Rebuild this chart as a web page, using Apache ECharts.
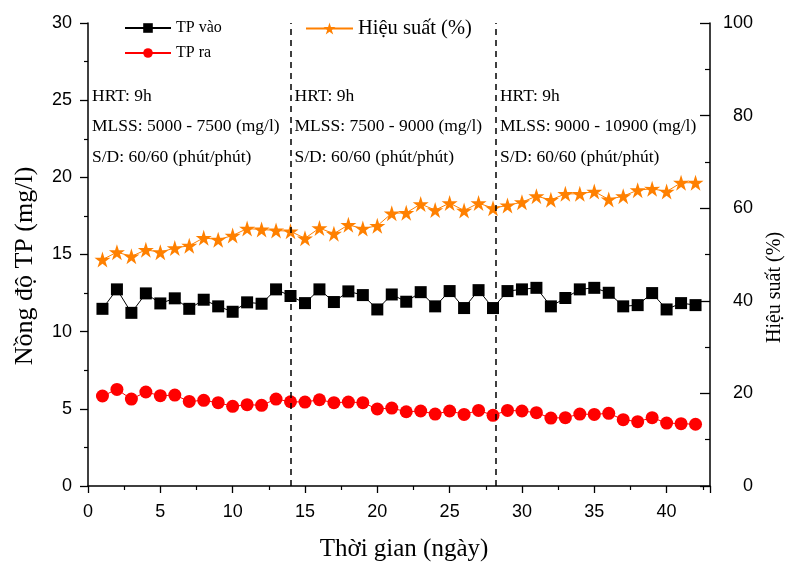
<!DOCTYPE html>
<html><head><meta charset="utf-8">
<script src="https://cdn.jsdelivr.net/npm/echarts@6/dist/echarts.min.js"></script>
<style>html,body{margin:0;padding:0;background:#fff}#c{width:789px;height:562px}</style>
</head><body><div id="c"></div>
<script>
const days = [1,2,3,4,5,6,7,8,9,10,11,12,13,14,15,16,17,18,19,20,21,22,23,24,25,26,27,28,29,30,31,32,33,34,35,36,37,38,39,40,41,42];
const tpVao = [11.48,12.74,11.22,12.48,11.83,12.16,11.48,12.07,11.64,11.29,11.90,11.81,12.74,12.31,11.85,12.74,11.92,12.61,12.37,11.44,12.41,11.94,12.56,11.64,12.63,11.53,12.69,11.53,12.63,12.74,12.84,11.64,12.18,12.74,12.84,12.52,11.64,11.72,12.50,11.44,11.85,11.72];
const tpRa = [5.83,6.26,5.63,6.09,5.85,5.89,5.48,5.55,5.40,5.16,5.27,5.23,5.63,5.46,5.44,5.59,5.40,5.44,5.40,4.99,5.05,4.81,4.86,4.66,4.86,4.64,4.90,4.58,4.90,4.86,4.75,4.40,4.43,4.66,4.64,4.71,4.30,4.17,4.43,4.08,4.04,4.00];
const hieuSuat = [48.9,50.5,49.6,51.0,50.5,51.4,51.9,53.6,53.2,54.1,55.6,55.4,55.2,55.0,53.5,55.7,54.5,56.4,55.6,56.2,58.9,59.0,60.9,59.6,61.1,59.5,61.1,60.0,60.6,61.3,62.6,61.8,63.1,63.1,63.6,61.9,62.6,63.9,64.2,63.6,65.5,65.5];
const phaseBounds = [14, 28.2];
const phaseX = [0, 14, 28.2];
const hrtText = 'HRT: 9h';
const mlssText = ['MLSS: 5000 - 7500 (mg/l)', 'MLSS: 7500 - 9000 (mg/l)', 'MLSS: 9000 - 10900 (mg/l)'];
const sdText = 'S/D: 60/60 (phút/phút)';

const star = 'path://M50,0 L61.17,34.63 L97.55,34.55 L68.07,55.87 L79.39,90.45 L50,69 L20.61,90.45 L31.93,55.87 L2.45,34.55 L38.83,34.63 Z';
const serif = 'Liberation Serif';
const sans = 'Liberation Sans';

const chart = echarts.init(document.getElementById('c'));
const G = {left:88, right:79, top:23, bottom:76, containLabel:false, outerBoundsMode:'none'};
const x0 = G.left, xw = 789 - G.left - G.right, xmax = 43;
const graphics = [];
phaseX.forEach((d, i) => {
  const px = x0 + d / xmax * xw + 4;
  [hrtText, mlssText[i], sdText].forEach((t, j) => {
    graphics.push({type:'text', left: px, top: 87 + j*30.5, style:{text:t, font:'17.5px "Liberation Serif"', fill:'#000'}});
  });
});

chart.setOption({
  animation:false,
  backgroundColor:'#fff',
  grid: G,
  legend:[
    {data:['TP vào','TP ra'], orient:'vertical', left:124, top:20, padding:0, itemWidth:46, itemHeight:12, itemGap:9,
     textStyle:{fontFamily:serif, fontSize:16, color:'#000'}},
    {data:['Hiệu suất (%)'], left:305, top:18, padding:0, itemWidth:47, itemHeight:15,
     textStyle:{fontFamily:serif, fontSize:20.5, color:'#000'}}
  ],
  xAxis:{type:'value', min:0, max:xmax, interval:5,
    name:'Thời gian (ngày)', nameLocation:'middle', nameGap:51,
    nameTextStyle:{fontFamily:serif, fontSize:25, color:'#000', padding:[0,0,0,10]},
    axisLine:{lineStyle:{color:'#000', width:1.5}},
    axisTick:{length:7, lineStyle:{color:'#000', width:1.3}},
    minorTick:{show:true, splitNumber:2, length:4, lineStyle:{color:'#000', width:1.2}},
    splitLine:{show:false},
    axisLabel:{showMaxLabel:false, fontFamily:sans, fontSize:18, color:'#000', margin:17}
  },
  yAxis:[
    {type:'value', min:0, max:30, interval:5, position:'left',
     name:'Nồng độ TP (mg/l)', nameLocation:'middle', nameGap:50,
     nameTextStyle:{fontFamily:serif, fontSize:26, color:'#000', padding:[0,23,0,0]},
     axisLine:{show:true, lineStyle:{color:'#000', width:1.5}},
     axisTick:{show:true, length:8, lineStyle:{color:'#000', width:1.3}},
     minorTick:{show:true, splitNumber:2, length:4, lineStyle:{color:'#000', width:1.2}},
     splitLine:{show:false},
     axisLabel:{fontFamily:sans, fontSize:18, color:'#000', margin:16}},
    {type:'value', min:0, max:100, interval:20, position:'right',
     name:'Hiệu suất (%)', nameLocation:'middle', nameGap:55,
     nameTextStyle:{fontFamily:serif, fontSize:20, color:'#000', padding:[0,66,0,0]},
     axisLine:{show:true, lineStyle:{color:'#000', width:1.5}},
     axisTick:{show:true, inside:true, length:10, lineStyle:{color:'#000', width:1.3}},
     minorTick:{show:true, splitNumber:2, length:5, lineStyle:{color:'#000', width:1.2}},
     splitLine:{show:false},
     axisLabel:{fontFamily:sans, fontSize:18, color:'#000', margin:43, align:'right'}}
  ],
  graphic: graphics,
  series:[
    {name:'TP vào', type:'line', yAxisIndex:0, data: days.map((d,i)=>[d,tpVao[i]]),
     symbol:'rect', symbolSize:12, lineStyle:{color:'#000', width:1}, itemStyle:{color:'#000'},
     markLine:{silent:true, symbol:'none', label:{show:false},
       lineStyle:{color:'#000', type:[6,5], width:1.5},
       data: phaseBounds.map(v=>({xAxis:v}))}},
    {name:'TP ra', type:'line', yAxisIndex:0, data: days.map((d,i)=>[d,tpRa[i]]),
     symbol:'circle', symbolSize:13, lineStyle:{color:'#ff0000', width:1}, itemStyle:{color:'#ff0000'}},
    {name:'Hiệu suất (%)', type:'line', yAxisIndex:1, data: days.map((d,i)=>[d,hieuSuat[i]]),
     symbol:star, symbolSize:16, lineStyle:{color:'#ff8000', width:1}, itemStyle:{color:'#ff8000'}}
  ]
});
</script></body></html>
